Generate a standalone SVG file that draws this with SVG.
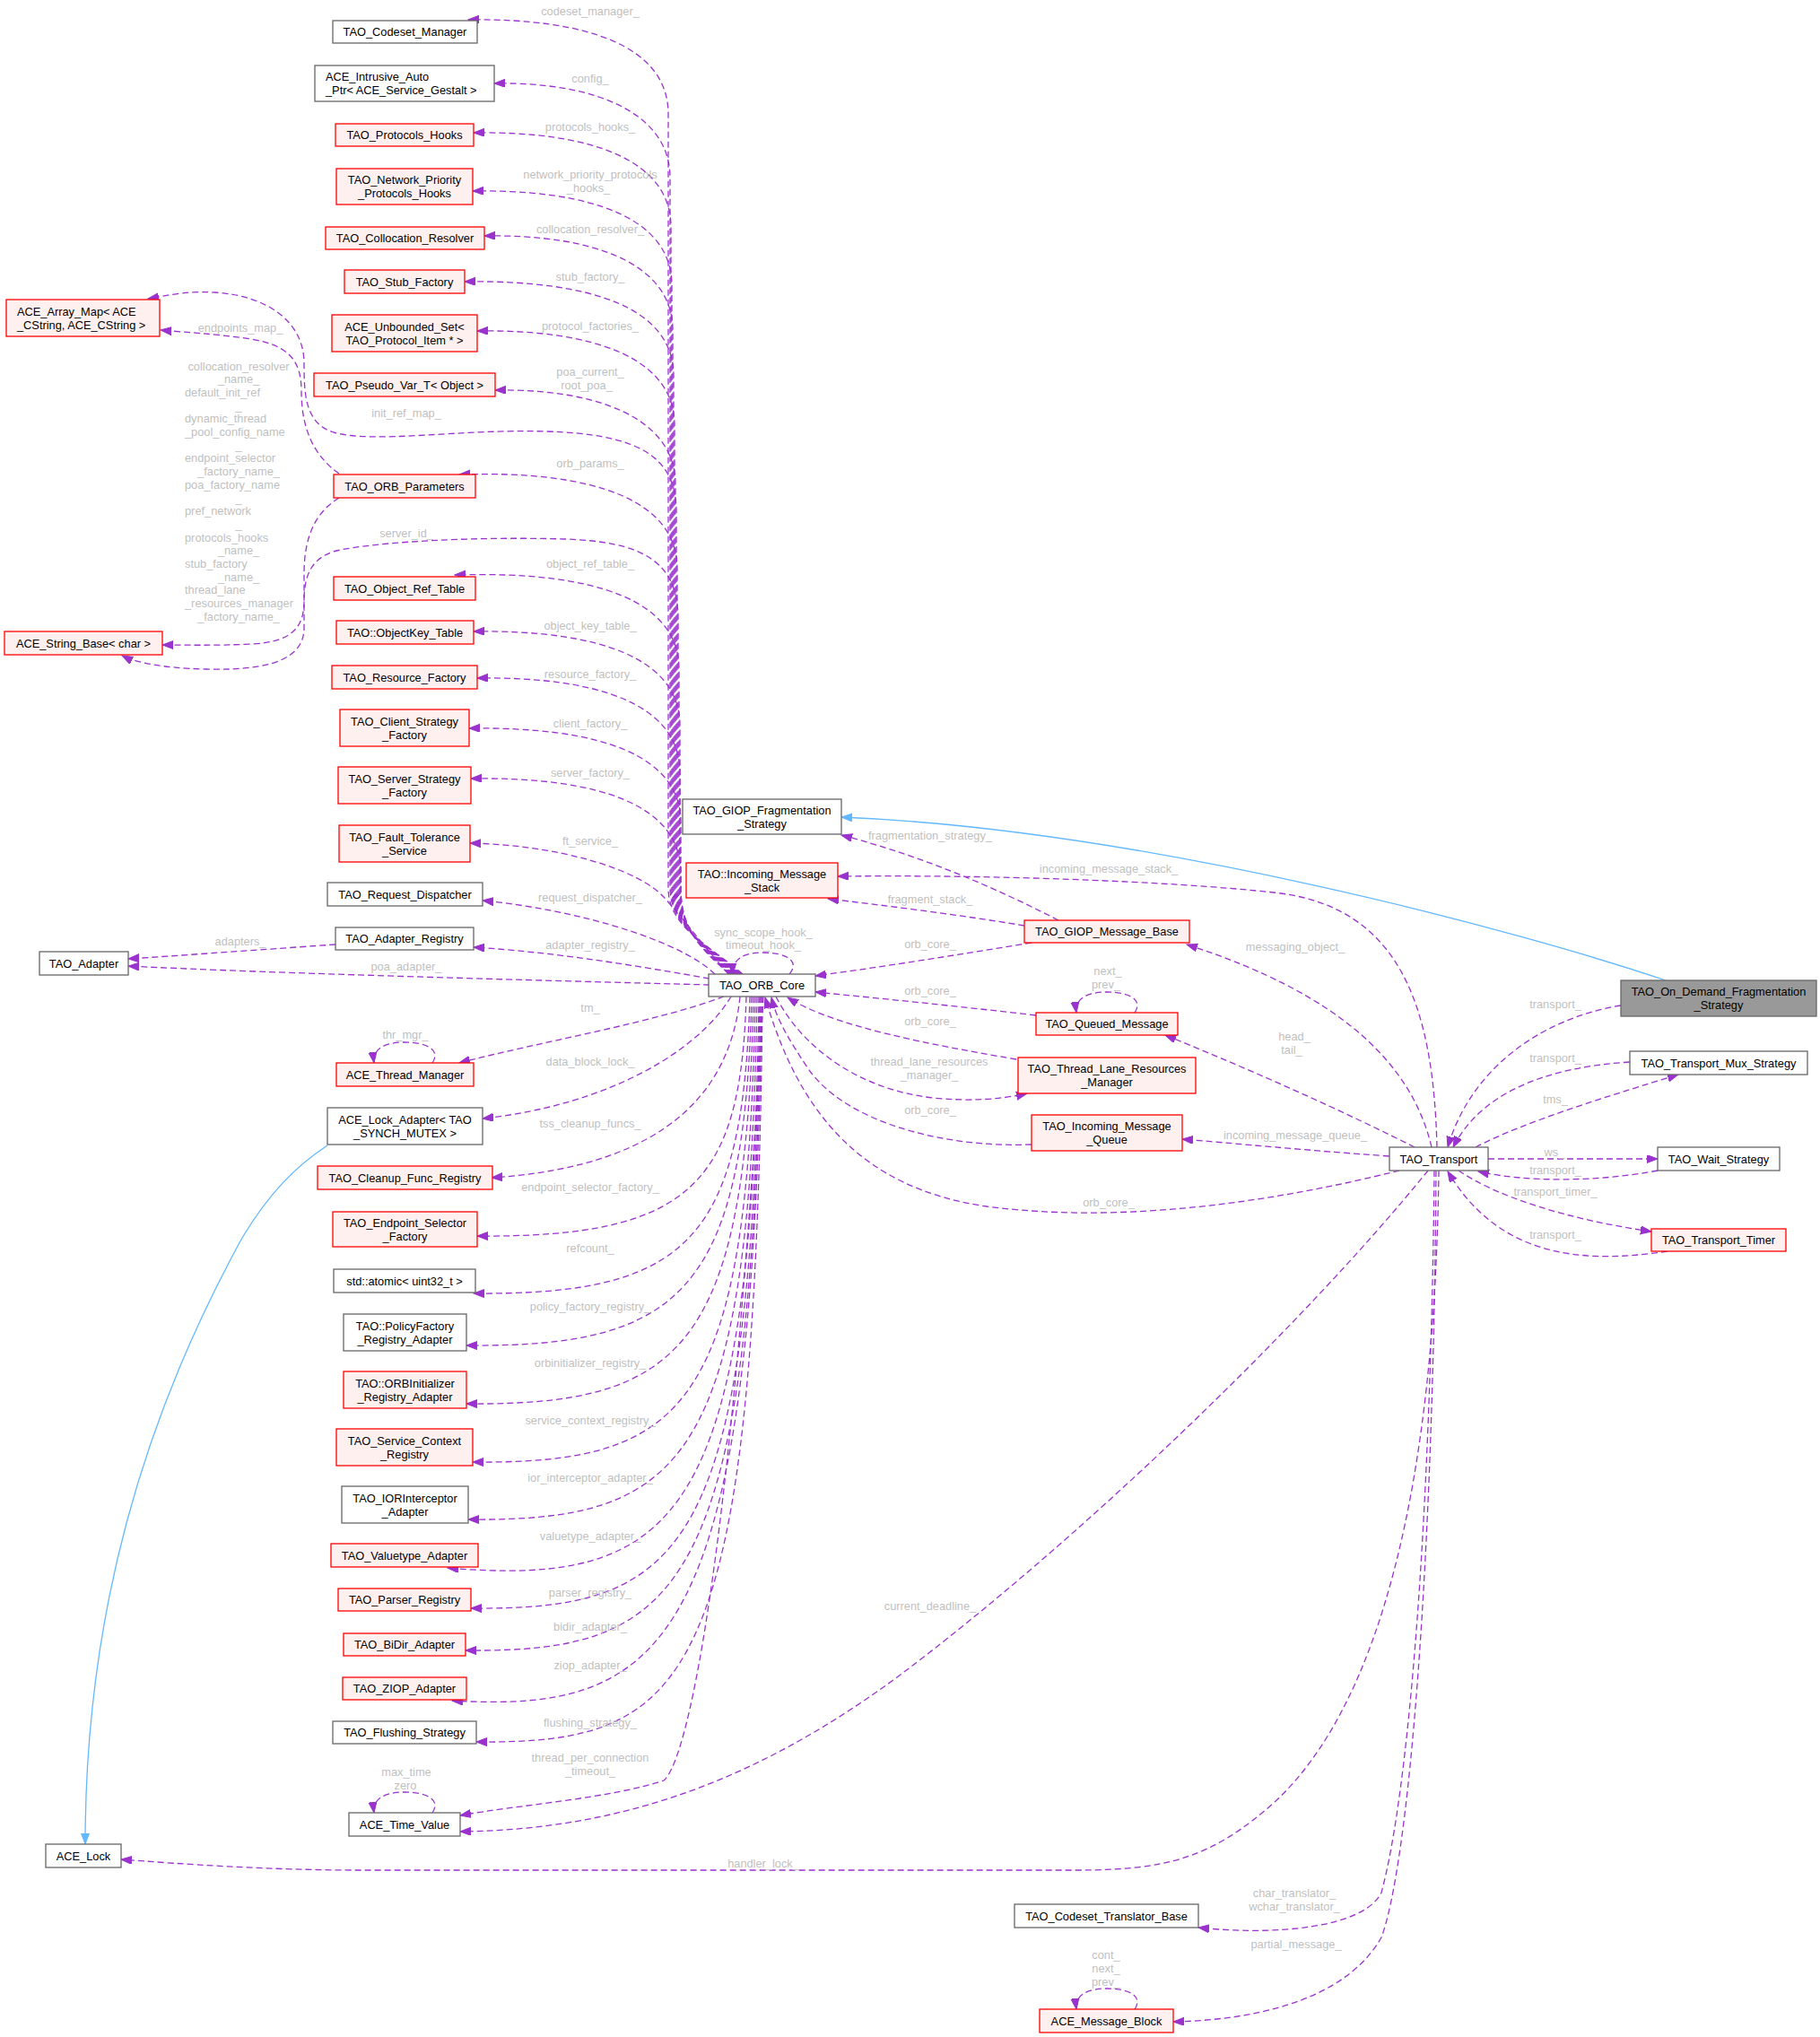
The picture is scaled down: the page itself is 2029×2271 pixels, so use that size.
<svg xmlns="http://www.w3.org/2000/svg" width="2029" height="2271" viewBox="0 0 2029 2271">
<style>
.g{fill:#fff;stroke:#666;stroke-width:1.3}
.r{fill:#fff0f0;stroke:#f00;stroke-width:1.3}
.h{fill:#999;stroke:#666;stroke-width:1.3}
text{font-family:"Liberation Sans",Arial,Helvetica,sans-serif;font-size:12.8px}
.t{fill:#000;text-anchor:middle}
.s{fill:#000;text-anchor:start}
.l{fill:#bfbfbf;text-anchor:middle}
.ls{fill:#bfbfbf;text-anchor:start}
.e{fill:none;stroke:#9a32cd;stroke-width:1.3;stroke-dasharray:7,4;marker-end:url(#a)}
.i{fill:none;stroke:#63b8ff;stroke-width:1.3;marker-end:url(#b)}
</style>
<defs>
<marker id="a" markerUnits="userSpaceOnUse" markerWidth="14" markerHeight="11" refX="12" refY="4.5" orient="auto"><path d="M0,0 L12,4.5 L0,9 z" fill="#9a32cd" stroke="#9a32cd" stroke-width="1" stroke-dasharray="none"/></marker>
<marker id="b" markerUnits="userSpaceOnUse" markerWidth="14" markerHeight="11" refX="12" refY="4.5" orient="auto"><path d="M0,0 L12,4.5 L0,9 z" fill="#63b8ff" stroke="#63b8ff" stroke-width="1" stroke-dasharray="none"/></marker>
</defs>
<rect x="0" y="0" width="2029" height="2271" fill="#fff"/>
<g id="edges">
<!-- upper bundle from TAO_ORB_Core -->
<path class="e" d="M828,1086 C793,1055 745,1035 745,990 L745,127 C745,52 655,20 522,22"/>
<path class="e" d="M827,1086 C792,1055 747,1035 747,990 L747,198 C747,123 657,91 551,93"/>
<path class="e" d="M826,1086 C791,1055 748,1035 748,990 L748,253 C748,178 658,146 528,148"/>
<path class="e" d="M825,1086 C790,1055 749,1035 749,990 L749,318 C749,243 659,211 527,213"/>
<path class="e" d="M824,1086 C789,1055 750,1035 750,990 L750,368 C750,293 660,261 540,263"/>
<path class="e" d="M823,1086 C788,1055 751,1035 751,990 L751,419 C751,344 661,312 518,314"/>
<path class="e" d="M822,1086 C787,1055 752,1035 752,990 L752,474 C752,399 662,367 532,369"/>
<path class="e" d="M821,1086 C786,1055 753,1035 753,990 L753,540 C753,465 663,433 552,435"/>
<path class="e" d="M820,1086 C785,1055 754,1035 754,990 L754,570 C754,505 705,484 610,481 C510,478 420,495 372,482 C340,472 339,440 339,405 C339,360 300,330 240,326 C205,324 185,330 165,333"/>
<path class="e" d="M819,1086 C784,1055 755,1035 755,990 L755,634 C755,559 665,524 512,529"/>
<path class="e" d="M818,1086 C783,1055 756,1035 756,990 L756,690 C756,625 715,604 630,601 C530,598 420,604 375,614 C345,622 339,645 339,670 C339,700 325,716 280,718 C240,720 205,719 181,719"/>
<path class="e" d="M817,1086 C782,1055 757,1035 757,990 L757,746 C757,671 667,636 507,641"/>
<path class="e" d="M816,1086 C781,1055 758,1035 758,990 L758,809 C758,734 668,702 528,704"/>
<path class="e" d="M815,1086 C780,1055 758,1035 758,990 L758,861 C758,786 668,754 532,756"/>
<path class="e" d="M814,1086 C779,1055 759,1035 759,990 L759,917 C759,842 669,810 523,812"/>
<path class="e" d="M813,1086 C778,1055 759,1035 759,990 L759,973 C759,898 669,866 525,868"/>
<path class="e" d="M812,1086 C785,1055 762,1025 740,1000 C710,968 620,942 524,940"/>
<path class="e" d="M797,1086 C760,1050 650,1015 538,1004"/>
<path class="e" d="M791,1091 C700,1075 620,1062 528,1056"/>
<path class="e" d="M791,1098 C600,1093 300,1085 143,1077"/>
<path class="e" d="M374,1053 C300,1058 220,1064 143,1069"/>
<!-- ORB_Parameters edges -->
<path class="e" d="M378,528 C345,505 336,470 336,436 C336,400 320,385 280,378 C240,372 200,370 179,368"/>
<path class="e" d="M378,555 C345,575 339,610 339,640 L339,700 C339,735 300,748 230,746 C180,745 150,738 136,731"/>
<!-- self loops -->
<path class="e" d="M880,1086 C892,1072 878,1062 850,1062 C828,1062 816,1070 817,1086"/>
<path class="e" d="M482,1185 C492,1170 475,1162 451,1162 C428,1162 415,1170 417,1185"/>
<path class="e" d="M482,2021 C492,2006 475,1998 451,1998 C428,1998 415,2006 417,2021"/>
<path class="e" d="M1265,1129 C1275,1114 1258,1106 1234,1106 C1211,1106 1198,1114 1200,1129"/>
<path class="e" d="M1265,2240 C1275,2225 1258,2217 1234,2217 C1211,2217 1198,2225 1200,2240"/>
<!-- lower fan from TAO_ORB_Core -->
<path class="e" d="M807,1111 C730,1140 600,1162 512,1185"/>
<path class="e" d="M815,1111 C780,1170 680,1232 538,1247"/>
<path class="e" d="M825,1111 C815,1210 750,1300 548,1313"/>
<path class="e" d="M832,1111 C826,1318 772,1380 532,1378"/>
<path class="e" d="M836,1111 C828,1382 768,1444 528,1442"/>
<path class="e" d="M838,1111 C830,1440 760,1502 520,1500"/>
<path class="e" d="M840,1111 C832,1505 760,1567 520,1565"/>
<path class="e" d="M842,1111 C834,1570 767,1632 527,1630"/>
<path class="e" d="M844,1111 C836,1634 762,1696 522,1694"/>
<path class="e" d="M846,1111 C838,1690 760,1770 499,1748"/>
<path class="e" d="M847,1111 C839,1733 765,1795 525,1793"/>
<path class="e" d="M848,1111 C840,1780 759,1842 519,1840"/>
<path class="e" d="M849,1111 C841,1836 744,1910 504,1896"/>
<path class="e" d="M850,1111 C842,1882 771,1944 531,1942"/>
<path class="e" d="M851,1111 C818,1700 770,1960 740,1985 C680,2005 580,2012 513,2024"/>
<!-- middle -->
<path class="e" d="M1180,1026 C1110,990 1030,955 938,931"/>
<path class="e" d="M1142,1032 C1070,1020 990,1010 923,1002"/>
<path class="e" d="M1150,1051 C1070,1064 990,1077 909,1088"/>
<path class="e" d="M1155,1132 C1070,1122 990,1114 909,1106"/>
<path class="e" d="M1133,1181 C1040,1165 930,1145 878,1112"/>
<path class="e" d="M865,1111 C895,1170 960,1215 1040,1224 C1080,1228 1115,1226 1145,1219"/>
<path class="e" d="M1150,1276 C1050,1280 940,1250 900,1190 C880,1160 865,1135 860,1112"/>
<path class="e" d="M1560,1305 C1420,1340 1250,1365 1100,1345 C960,1325 890,1240 853,1112"/>
<!-- TAO_Transport -->
<path class="e" d="M1602,1279 C1598,1120 1560,1010 1420,995 C1300,982 1100,975 934,977"/>
<path class="e" d="M1596,1279 C1575,1190 1500,1110 1323,1053"/>
<path class="e" d="M1577,1279 C1500,1240 1400,1195 1299,1154"/>
<path class="e" d="M1549,1289 C1450,1282 1380,1275 1318,1270"/>
<path class="e" d="M1592,1305 C1450,1480 1200,1720 1000,1870 C850,1980 700,2040 513,2042"/>
<path class="e" d="M1604,1305 C1600,1650 1540,1900 1420,2010 C1350,2072 1300,2085 1200,2085 L400,2085 C300,2085 200,2078 135,2073"/>
<path class="e" d="M1599,1305 C1595,1700 1570,2000 1540,2110 C1520,2150 1420,2158 1336,2149"/>
<path class="e" d="M1601,1305 C1598,1750 1570,2080 1540,2160 C1500,2230 1400,2252 1308,2254"/>
<path class="e" d="M1807,1121 C1720,1135 1640,1190 1614,1279"/>
<path class="e" d="M1817,1184 C1720,1190 1650,1220 1620,1279"/>
<path class="e" d="M1645,1279 C1700,1250 1800,1220 1871,1198"/>
<path class="e" d="M1659,1292 L1848,1292"/>
<path class="e" d="M1848,1305 C1780,1318 1700,1318 1648,1306"/>
<path class="e" d="M1626,1305 C1670,1335 1750,1360 1841,1373"/>
<path class="e" d="M1859,1395 C1760,1410 1670,1400 1614,1306"/>
<!-- inheritance -->
<path class="i" d="M1857,1093 C1700,1040 1280,925 938,911"/>
<path class="i" d="M365,1277 C330,1300 300,1330 270,1380 C160,1580 95,1800 95,2056"/>
<!-- edge labels -->
<text class="l" x="658" y="16.5">codeset_manager_</text>
<text class="l" x="658" y="91.5">config_</text>
<text class="l" x="658" y="145.5">protocols_hooks_</text>
<text class="l" x="658" y="198.5">network_priority_protocols</text>
<text class="l" x="656" y="213.5">_hooks_</text>
<text class="l" x="658" y="259.5">collocation_resolver_</text>
<text class="l" x="658" y="312.5">stub_factory_</text>
<text class="l" x="658" y="367.5">protocol_factories_</text>
<text class="l" x="658" y="418.5">poa_current_</text>
<text class="l" x="654" y="433.5">root_poa_</text>
<text class="l" x="453" y="464.5">init_ref_map_</text>
<text class="l" x="658" y="520.5">orb_params_</text>
<text class="l" x="453" y="598.5">server_id_</text>
<text class="l" x="658" y="632.5">object_ref_table_</text>
<text class="l" x="658" y="701.5">object_key_table_</text>
<text class="l" x="658" y="755.5">resource_factory_</text>
<text class="l" x="658" y="810.5">client_factory_</text>
<text class="l" x="658" y="865.5">server_factory_</text>
<text class="l" x="658" y="941.5">ft_service_</text>
<text class="l" x="658" y="1004.5">request_dispatcher_</text>
<text class="l" x="268" y="1053.5">adapters_</text>
<text class="l" x="658" y="1057.5">adapter_registry_</text>
<text class="l" x="453" y="1081.5">poa_adapter_</text>
<text class="l" x="658" y="1127.5">tm_</text>
<text class="l" x="452" y="1157.5">thr_mgr_</text>
<text class="l" x="658" y="1187.5">data_block_lock_</text>
<text class="l" x="658" y="1256.5">tss_cleanup_funcs_</text>
<text class="l" x="658" y="1327.5">endpoint_selector_factory_</text>
<text class="l" x="658" y="1395.5">refcount_</text>
<text class="l" x="658" y="1460.5">policy_factory_registry_</text>
<text class="l" x="658" y="1523.5">orbinitializer_registry_</text>
<text class="l" x="658" y="1587.5">service_context_registry_</text>
<text class="l" x="658" y="1651.5">ior_interceptor_adapter_</text>
<text class="l" x="658" y="1716.5">valuetype_adapter_</text>
<text class="l" x="658" y="1779.5">parser_registry_</text>
<text class="l" x="658" y="1817.5">bidir_adapter_</text>
<text class="l" x="658" y="1860.5">ziop_adapter_</text>
<text class="l" x="658" y="1924.5">flushing_strategy_</text>
<text class="l" x="658" y="1963.5">thread_per_connection</text>
<text class="l" x="658" y="1978.5">_timeout_</text>
<text class="l" x="453" y="1979.5">max_time</text>
<text class="l" x="452" y="1994.5">zero</text>
<text class="l" x="268" y="369.5">endpoints_map_</text>
<text class="l" x="266" y="412.5">collocation_resolver</text>
<text class="l" x="266" y="427.2">_name_</text>
<text class="ls" x="206" y="441.9">default_init_ref</text>
<text class="l" x="266" y="456.6">_</text>
<text class="ls" x="206" y="471.3">dynamic_thread</text>
<text class="ls" x="206" y="486">_pool_config_name</text>
<text class="l" x="266" y="500.7">_</text>
<text class="ls" x="206" y="515.4">endpoint_selector</text>
<text class="l" x="266" y="530.1">_factory_name_</text>
<text class="ls" x="206" y="544.8">poa_factory_name</text>
<text class="l" x="266" y="559.5">_</text>
<text class="ls" x="206" y="574.2">pref_network</text>
<text class="l" x="266" y="588.9">_</text>
<text class="ls" x="206" y="603.6">protocols_hooks</text>
<text class="l" x="266" y="618.3">_name_</text>
<text class="ls" x="206" y="633">stub_factory</text>
<text class="l" x="266" y="647.7">_name_</text>
<text class="ls" x="206" y="662.4">thread_lane</text>
<text class="ls" x="206" y="677.1">_resources_manager</text>
<text class="l" x="266" y="691.8">_factory_name_</text>
<text class="l" x="1037" y="935.5">fragmentation_strategy_</text>
<text class="l" x="1236" y="972.5">incoming_message_stack_</text>
<text class="l" x="1037" y="1006.5">fragment_stack_</text>
<text class="l" x="851" y="1043.5">sync_scope_hook_</text>
<text class="l" x="851" y="1058">timeout_hook_</text>
<text class="l" x="1037" y="1056.5">orb_core_</text>
<text class="l" x="1444" y="1059.5">messaging_object_</text>
<text class="l" x="1235" y="1086.5">next_</text>
<text class="l" x="1233" y="1101.5">prev_</text>
<text class="l" x="1037" y="1108.5">orb_core_</text>
<text class="l" x="1037" y="1142.5">orb_core_</text>
<text class="l" x="1036" y="1187.5">thread_lane_resources</text>
<text class="l" x="1036" y="1203">_manager_</text>
<text class="l" x="1037" y="1241.5">orb_core_</text>
<text class="l" x="1444" y="1269.5">incoming_message_queue_</text>
<text class="l" x="1443" y="1159.5">head_</text>
<text class="l" x="1440" y="1174.5">tail_</text>
<text class="l" x="1236" y="1344.5">orb_core_</text>
<text class="l" x="1734" y="1123.5">transport_</text>
<text class="l" x="1734" y="1183.5">transport_</text>
<text class="l" x="1734" y="1229.5">tms_</text>
<text class="l" x="1733" y="1288.5">ws_</text>
<text class="l" x="1734" y="1308.5">transport_</text>
<text class="l" x="1734" y="1332.5">transport_timer_</text>
<text class="l" x="1734" y="1380.5">transport_</text>
<text class="l" x="1037" y="1794.5">current_deadline_</text>
<text class="l" x="851" y="2081.5">handler_lock_</text>
<text class="l" x="1443" y="2114.5">char_translator_</text>
<text class="l" x="1443" y="2129.5">wchar_translator_</text>
<text class="l" x="1445" y="2171.5">partial_message_</text>
<text class="l" x="1233" y="2183.5">cont_</text>
<text class="l" x="1233" y="2198.5">next_</text>
<text class="l" x="1233" y="2213.5">prev_</text>
</g>
<g id="n_TAO_Codeset_Manager"><rect class="g" x="371" y="23" width="161" height="25"/><text class="t" x="451.5" y="40">TAO_Codeset_Manager</text></g>
<g id="n_ACE_Intrusive_Auto_Ptr"><rect class="g" x="351" y="73" width="200" height="40"/><text class="s" x="363" y="90">ACE_Intrusive_Auto</text><text class="s" x="363" y="105">_Ptr&lt; ACE_Service_Gestalt &gt;</text></g>
<g id="n_TAO_Protocols_Hooks"><rect class="r" x="374" y="138" width="154" height="25"/><text class="t" x="451" y="155">TAO_Protocols_Hooks</text></g>
<g id="n_TAO_Network_Priority_Protocols_Hooks"><rect class="r" x="375" y="188" width="152" height="40"/><text class="t" x="451" y="205">TAO_Network_Priority</text><text class="t" x="451" y="220">_Protocols_Hooks</text></g>
<g id="n_TAO_Collocation_Resolver"><rect class="r" x="363" y="253" width="177" height="25"/><text class="t" x="451.5" y="270">TAO_Collocation_Resolver</text></g>
<g id="n_TAO_Stub_Factory"><rect class="r" x="384" y="301" width="134" height="26"/><text class="t" x="451" y="318.5">TAO_Stub_Factory</text></g>
<g id="n_ACE_Unbounded_Set"><rect class="r" x="370" y="351" width="162" height="41"/><text class="t" x="451" y="368.5">ACE_Unbounded_Set&lt;</text><text class="t" x="451" y="383.5">TAO_Protocol_Item * &gt;</text></g>
<g id="n_TAO_Pseudo_Var_T"><rect class="r" x="350" y="416" width="202" height="26"/><text class="t" x="451" y="433.5">TAO_Pseudo_Var_T&lt; Object &gt;</text></g>
<g id="n_TAO_ORB_Parameters"><rect class="r" x="372" y="529" width="158" height="26"/><text class="t" x="451" y="546.5">TAO_ORB_Parameters</text></g>
<g id="n_TAO_Object_Ref_Table"><rect class="r" x="372" y="643" width="158" height="26"/><text class="t" x="451" y="660.5">TAO_Object_Ref_Table</text></g>
<g id="n_TAO_ObjectKey_Table"><rect class="r" x="375" y="692" width="153" height="26"/><text class="t" x="451.5" y="709.5">TAO::ObjectKey_Table</text></g>
<g id="n_TAO_Resource_Factory"><rect class="r" x="370" y="742" width="162" height="26"/><text class="t" x="451" y="759.5">TAO_Resource_Factory</text></g>
<g id="n_ACE_Array_Map"><rect class="r" x="7" y="334" width="171" height="41"/><text class="s" x="19" y="351.5">ACE_Array_Map&lt; ACE</text><text class="s" x="19" y="366.5">_CString, ACE_CString &gt;</text></g>
<g id="n_ACE_String_Base"><rect class="r" x="5" y="704" width="176" height="26"/><text class="t" x="93" y="721.5">ACE_String_Base&lt; char &gt;</text></g>
<g id="n_TAO_Client_Strategy_Factory"><rect class="r" x="379" y="791" width="144" height="41"/><text class="t" x="451" y="808.5">TAO_Client_Strategy</text><text class="t" x="451" y="823.5">_Factory</text></g>
<g id="n_TAO_Server_Strategy_Factory"><rect class="r" x="377" y="855" width="148" height="41"/><text class="t" x="451" y="872.5">TAO_Server_Strategy</text><text class="t" x="451" y="887.5">_Factory</text></g>
<g id="n_TAO_Fault_Tolerance_Service"><rect class="r" x="378" y="920" width="146" height="41"/><text class="t" x="451" y="937.5">TAO_Fault_Tolerance</text><text class="t" x="451" y="952.5">_Service</text></g>
<g id="n_TAO_Request_Dispatcher"><rect class="g" x="365" y="984" width="173" height="26"/><text class="t" x="451.5" y="1001.5">TAO_Request_Dispatcher</text></g>
<g id="n_TAO_Adapter_Registry"><rect class="g" x="374" y="1034" width="154" height="25"/><text class="t" x="451" y="1051">TAO_Adapter_Registry</text></g>
<g id="n_TAO_Adapter"><rect class="g" x="44" y="1061" width="99" height="26"/><text class="t" x="93.5" y="1078.5">TAO_Adapter</text></g>
<g id="n_ACE_Thread_Manager"><rect class="r" x="375" y="1185" width="153" height="26"/><text class="t" x="451.5" y="1202.5">ACE_Thread_Manager</text></g>
<g id="n_ACE_Lock_Adapter"><rect class="g" x="365" y="1235" width="173" height="41"/><text class="t" x="451.5" y="1252.5">ACE_Lock_Adapter&lt; TAO</text><text class="t" x="451.5" y="1267.5">_SYNCH_MUTEX &gt;</text></g>
<g id="n_TAO_Cleanup_Func_Registry"><rect class="r" x="354" y="1300" width="195" height="26"/><text class="t" x="451.5" y="1317.5">TAO_Cleanup_Func_Registry</text></g>
<g id="n_TAO_Endpoint_Selector_Factory"><rect class="r" x="371" y="1351" width="161" height="39"/><text class="t" x="451.5" y="1367.5">TAO_Endpoint_Selector</text><text class="t" x="451.5" y="1382.5">_Factory</text></g>
<g id="n_std_atomic"><rect class="g" x="372" y="1415" width="158" height="26"/><text class="t" x="451" y="1432.5">std::atomic&lt; uint32_t &gt;</text></g>
<g id="n_TAO_PolicyFactory_Registry_Adapter"><rect class="g" x="383" y="1465" width="137" height="41"/><text class="t" x="451.5" y="1482.5">TAO::PolicyFactory</text><text class="t" x="451.5" y="1497.5">_Registry_Adapter</text></g>
<g id="n_TAO_ORBInitializer_Registry_Adapter"><rect class="r" x="383" y="1529" width="137" height="41"/><text class="t" x="451.5" y="1546.5">TAO::ORBInitializer</text><text class="t" x="451.5" y="1561.5">_Registry_Adapter</text></g>
<g id="n_TAO_Service_Context_Registry"><rect class="r" x="375" y="1593" width="152" height="41"/><text class="t" x="451" y="1610.5">TAO_Service_Context</text><text class="t" x="451" y="1625.5">_Registry</text></g>
<g id="n_TAO_IORInterceptor_Adapter"><rect class="g" x="381" y="1657" width="141" height="41"/><text class="t" x="451.5" y="1674.5">TAO_IORInterceptor</text><text class="t" x="451.5" y="1689.5">_Adapter</text></g>
<g id="n_TAO_Valuetype_Adapter"><rect class="r" x="369" y="1721" width="164" height="26"/><text class="t" x="451" y="1738.5">TAO_Valuetype_Adapter</text></g>
<g id="n_TAO_Parser_Registry"><rect class="r" x="377" y="1771" width="148" height="25"/><text class="t" x="451" y="1788">TAO_Parser_Registry</text></g>
<g id="n_TAO_BiDir_Adapter"><rect class="r" x="383" y="1821" width="136" height="25"/><text class="t" x="451" y="1838">TAO_BiDir_Adapter</text></g>
<g id="n_TAO_ZIOP_Adapter"><rect class="r" x="382" y="1870" width="138" height="25"/><text class="t" x="451" y="1887">TAO_ZIOP_Adapter</text></g>
<g id="n_TAO_Flushing_Strategy"><rect class="g" x="371" y="1919" width="160" height="25"/><text class="t" x="451" y="1936">TAO_Flushing_Strategy</text></g>
<g id="n_ACE_Time_Value"><rect class="g" x="389" y="2021" width="124" height="26"/><text class="t" x="451" y="2038.5">ACE_Time_Value</text></g>
<g id="n_ACE_Lock"><rect class="g" x="51" y="2056" width="84" height="26"/><text class="t" x="93" y="2073.5">ACE_Lock</text></g>
<g id="n_TAO_GIOP_Fragmentation_Strategy"><rect class="g" x="761" y="891" width="177" height="39"/><text class="t" x="849.5" y="907.5">TAO_GIOP_Fragmentation</text><text class="t" x="849.5" y="922.5">_Strategy</text></g>
<g id="n_TAO_Incoming_Message_Stack"><rect class="r" x="765" y="962" width="169" height="39"/><text class="t" x="849.5" y="978.5">TAO::Incoming_Message</text><text class="t" x="849.5" y="993.5">_Stack</text></g>
<g id="n_TAO_ORB_Core"><rect class="g" x="790" y="1086" width="119" height="25"/><text class="t" x="849.5" y="1103">TAO_ORB_Core</text></g>
<g id="n_TAO_GIOP_Message_Base"><rect class="r" x="1142" y="1026" width="184" height="25"/><text class="t" x="1234" y="1043">TAO_GIOP_Message_Base</text></g>
<g id="n_TAO_Queued_Message"><rect class="r" x="1155" y="1129" width="158" height="25"/><text class="t" x="1234" y="1146">TAO_Queued_Message</text></g>
<g id="n_TAO_Thread_Lane_Resources_Manager"><rect class="r" x="1135" y="1179" width="198" height="40"/><text class="t" x="1234" y="1196">TAO_Thread_Lane_Resources</text><text class="t" x="1234" y="1211">_Manager</text></g>
<g id="n_TAO_Incoming_Message_Queue"><rect class="r" x="1150" y="1243" width="168" height="40"/><text class="t" x="1234" y="1260">TAO_Incoming_Message</text><text class="t" x="1234" y="1275">_Queue</text></g>
<g id="n_TAO_Transport"><rect class="g" x="1549" y="1279" width="110" height="26"/><text class="t" x="1604" y="1296.5">TAO_Transport</text></g>
<g id="n_TAO_On_Demand_Fragmentation_Strategy"><rect class="h" x="1807" y="1093" width="218" height="40"/><text class="t" x="1916" y="1110">TAO_On_Demand_Fragmentation</text><text class="t" x="1916" y="1125">_Strategy</text></g>
<g id="n_TAO_Transport_Mux_Strategy"><rect class="g" x="1817" y="1172" width="198" height="26"/><text class="t" x="1916" y="1189.5">TAO_Transport_Mux_Strategy</text></g>
<g id="n_TAO_Wait_Strategy"><rect class="g" x="1848" y="1279" width="136" height="26"/><text class="t" x="1916" y="1296.5">TAO_Wait_Strategy</text></g>
<g id="n_TAO_Transport_Timer"><rect class="r" x="1841" y="1370" width="150" height="25"/><text class="t" x="1916" y="1387">TAO_Transport_Timer</text></g>
<g id="n_TAO_Codeset_Translator_Base"><rect class="g" x="1131" y="2123" width="205" height="26"/><text class="t" x="1233.5" y="2140.5">TAO_Codeset_Translator_Base</text></g>
<g id="n_ACE_Message_Block"><rect class="r" x="1159" y="2240" width="149" height="26"/><text class="t" x="1233.5" y="2257.5">ACE_Message_Block</text></g>
</svg>
